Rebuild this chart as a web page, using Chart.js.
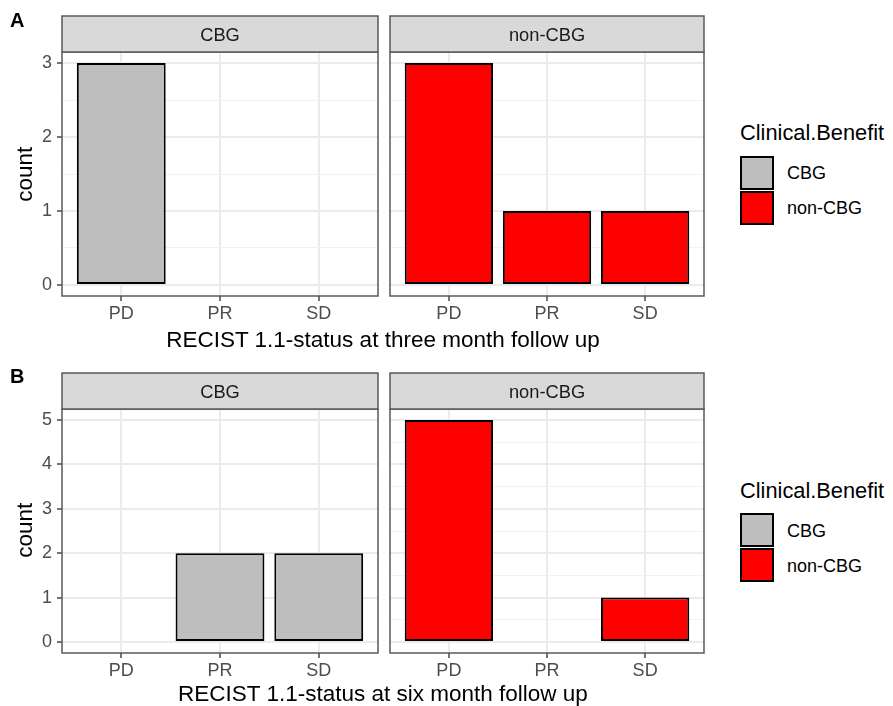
<!DOCTYPE html>
<html><head><meta charset="utf-8">
<script src="https://cdn.jsdelivr.net/npm/chart.js@4/dist/chart.umd.min.js"></script>
<style>
body{margin:0;background:#fff;}
#root{position:relative;width:893px;height:706px;overflow:hidden;font-family:"Liberation Sans",Arial,sans-serif;background:#fff;}
canvas{position:absolute;}
.t{position:absolute;white-space:nowrap;line-height:1;color:#000;}
.key{position:absolute;box-sizing:border-box;border:2px solid #000;width:34px;height:34px;}
</style></head><body><div id="root">
<canvas id="a1" width="384" height="330" style="left:0;top:0"></canvas>
<canvas id="a2" width="326" height="330" style="left:384px;top:0"></canvas>
<canvas id="b1" width="384" height="330" style="left:0;top:357px"></canvas>
<canvas id="b2" width="326" height="330" style="left:384px;top:357px"></canvas>
</div>
<script>
// ---- data ----
const categories = ['PD', 'PR', 'SD'];
const facets = ['CBG', 'non-CBG'];
const threeMonthCBG = [3, 0, 0];
const threeMonthNonCBG = [3, 1, 1];
const sixMonthCBG = [0, 2, 2];
const sixMonthNonCBG = [5, 0, 1];
const yTicksThree = [0, 1, 2, 3];
const yTicksSix = [0, 1, 2, 3, 4, 5];
const xTitleThree = 'RECIST 1.1-status at three month follow up';
const xTitleSix = 'RECIST 1.1-status at six month follow up';
const yTitle = 'count';
const legendTitle = 'Clinical.Benefit';

// ---- styles ----
const fillColors = {'CBG': '#bebebe', 'non-CBG': '#ff0000'};
const FONT = '"Liberation Sans", Arial, sans-serif';
const TICK_SIZE = 18;
Chart.defaults.font.family = FONT;

const panelDecor = {
  id: 'panelDecor',
  afterDraw(chart, args, opts) {
    const {ctx, chartArea: a} = chart;
    const h = 36;
    ctx.save();
    ctx.strokeStyle = '#595959';
    ctx.lineWidth = 1.5;
    ctx.strokeRect(a.left, a.top, a.right - a.left, a.bottom - a.top);
    ctx.fillStyle = '#d9d9d9';
    ctx.fillRect(a.left, a.top - h, a.right - a.left, h);
    ctx.strokeRect(a.left, a.top - h, a.right - a.left, h);
    ctx.fillStyle = '#1a1a1a';
    ctx.font = '18.3px ' + FONT;
    ctx.textAlign = 'center';
    ctx.textBaseline = 'alphabetic';
    ctx.fillText(opts.label, (a.left + a.right) / 2, a.top - h / 2 + 6.6);
    ctx.restore();
  }
};

function makePanel(id, facet, values, yTicks, showY) {
  const top = yTicks[yTicks.length - 1];
  const yMin = -0.05 * top, yMax = top * 1.05;
  const tickVals = [];
  yTicks.forEach((v, i) => { tickVals.push(v); if (i < yTicks.length - 1) tickVals.push(v + 0.5); });
  const isMajor = v => Math.abs(v - Math.round(v)) < 1e-9;
  return new Chart(document.getElementById(id), {
    type: 'bar',
    data: {
      datasets: [{
        label: facet,
        data: values.map((v, i) => ({x: i, y: v})),
        backgroundColor: fillColors[facet],
        borderColor: '#000',
        borderWidth: c => (c.raw && c.raw.y === 0) ? 0 : 2,
        borderSkipped: false,
        barPercentage: 0.9,
        categoryPercentage: 1
      }]
    },
    options: {
      responsive: false, animation: false, devicePixelRatio: 1, events: [],
      layout: {padding: {top: 52, left: showY ? 0 : 6, right: 6, bottom: 0}},
      plugins: {legend: {display: false}, tooltip: {enabled: false}, panelDecor: {label: facet}},
      scales: {
        x: {
          type: 'linear', offset: false,
          min: -0.6, max: categories.length - 1 + 0.6,
          afterBuildTicks: s => { s.ticks = categories.map((c, i) => ({value: i})); },
          afterFit: s => { s.height = 34; },
          ticks: {callback: v => categories[v], color: '#4d4d4d', font: {size: TICK_SIZE}, padding: 2, maxRotation: 0, autoSkip: false},
          grid: {offset: false, color: '#ebebeb', lineWidth: 2, tickLength: 5, tickColor: '#444', tickWidth: 1.5},
          border: {display: false}
        },
        y: {
          type: 'linear', min: yMin, max: yMax,
          afterBuildTicks: s => { s.ticks = tickVals.map(v => ({value: v})); },
          afterFit: s => { s.width = showY ? 62 : 0; },
          ticks: {display: showY, callback: v => isMajor(v) ? String(Math.round(v)) : '', color: '#4d4d4d', font: {size: TICK_SIZE}, padding: 5},
          grid: {
            drawTicks: showY, tickLength: 5, tickWidth: 1.5,
            color: c => isMajor(c.tick.value) ? '#ebebeb' : '#f2f2f2',
            lineWidth: c => isMajor(c.tick.value) ? 2 : 1,
            tickColor: c => isMajor(c.tick.value) ? '#444' : 'rgba(0,0,0,0)'
          },
          border: {display: false}
        }
      }
    },
    plugins: [panelDecor]
  });
}

makePanel('a1', facets[0], threeMonthCBG, yTicksThree, true);
makePanel('a2', facets[1], threeMonthNonCBG, yTicksThree, false);
makePanel('b1', facets[0], sixMonthCBG, yTicksSix, true);
makePanel('b2', facets[1], sixMonthNonCBG, yTicksSix, false);

// ---- text & legends ----
const root = document.getElementById('root');
function addText(txt, style) {
  const d = document.createElement('div');
  d.className = 't';
  d.textContent = txt;
  Object.assign(d.style, style);
  root.appendChild(d);
  return d;
}
addText('A', {left: '10px', top: '9.8px', fontSize: '20px', fontWeight: 'bold'});
addText('B', {left: '10px', top: '366.4px', fontSize: '20px', fontWeight: 'bold'});
[[xTitleThree, 329.3, 174], [xTitleSix, 682.7, 530.5]].forEach(([t, top, cy]) => {
  addText(t, {left: '62px', width: '642px', textAlign: 'center', top: top + 'px', fontSize: '22.5px'});
  addText(yTitle, {left: (25.2 - 100) + 'px', width: '200px', textAlign: 'center', top: (cy - 11.25) + 'px',
    fontSize: '22.5px', height: '22.5px', transform: 'rotate(-90deg)'});
});
function addLegend(titleTop, keyTop, labelTops) {
  addText(legendTitle, {left: '740px', top: titleTop + 'px', fontSize: '21.8px'});
  facets.forEach((f, i) => {
    const k = document.createElement('div');
    k.className = 'key';
    k.style.left = '740px';
    k.style.top = (keyTop + i * 35) + 'px';
    k.style.background = fillColors[f];
    root.appendChild(k);
    addText(f, {left: '787px', top: labelTops[i] + 'px', fontSize: '18px'});
  });
}
addLegend(122.2, 155.5, [164.1, 199.1]);
addLegend(479.9, 512.5, [521.5, 556.5]);
</script>
</body></html>
